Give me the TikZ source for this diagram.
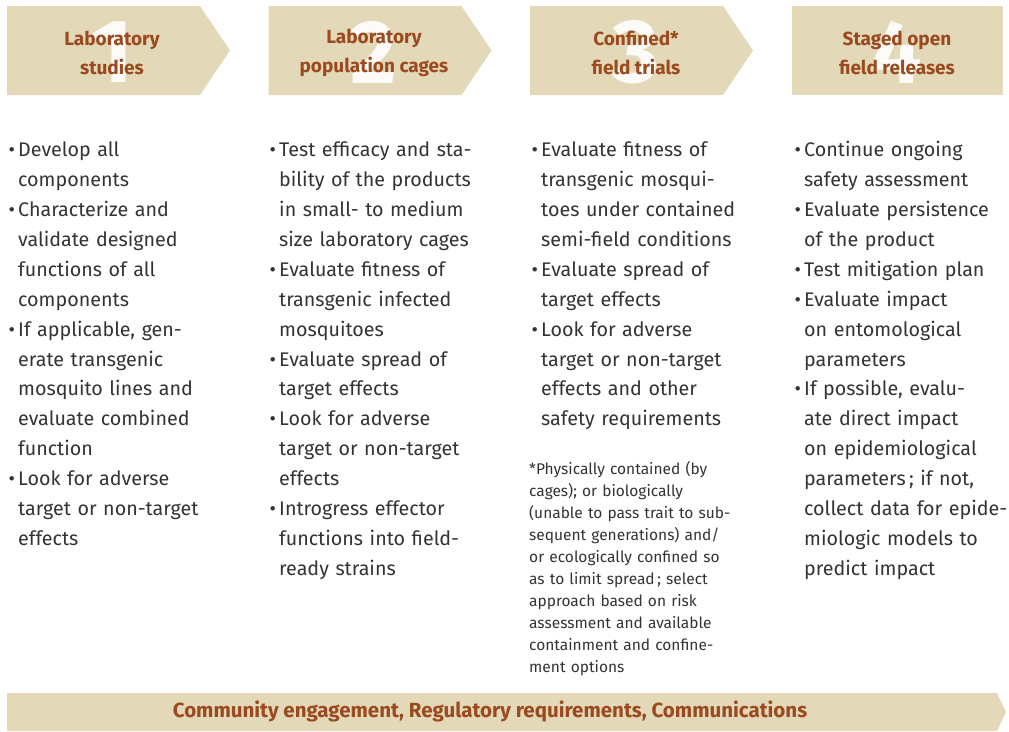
\documentclass[tikz,border=0pt]{standalone}
\usepackage{fontspec}
\setmainfont{Fira Sans}
\definecolor{beige}{HTML}{E3D8B8}
\definecolor{rust}{HTML}{9A4A1E}
\definecolor{ink}{HTML}{333333}
\newcommand{\itm}[1]{\noindent\hangindent=9.5pt\hangafter=1\hbox to 9.5pt{\textbullet\hfil}#1\par}

\begin{document}
\begin{tikzpicture}[x=1pt,y=-1pt,
  hdr/.style={fill=beige},
  num/.style={text=white,opacity=.9,font=\fontsize{90}{90}\selectfont\bfseries},
  ttl/.style={text=rust,align=center,font=\fontsize{19}{29}\selectfont\bfseries},
  body/.style={anchor=base west,inner sep=0pt,text width=240pt,text=ink,font=\fontsize{19.7}{29.93}\selectfont},
  note/.style={anchor=base west,inner sep=0pt,text width=240pt,text=ink,font=\fontsize{15.5}{22.1}\selectfont}]
\useasboundingbox (0,0) rectangle (1009,731);
\foreach \x in {7,268.5,530}
  \fill[hdr] (\x,6) -- ++(193,0) -- ++(30,44.5) -- ++(-30,44.5) -- ++(-193,0) -- cycle;
\fill[hdr] (792,6) rectangle (1003,95);
\fill[hdr] (7,693) -- (997,693) -- (1006,712) -- (997,731) -- (7,731) -- cycle;
\foreach \n/\x in {1/112,2/374,3/636,4/897}
  \node[num] (n\n) at (\x,52) {\n};
\node[ttl] (t1) at (112,52.5) {Laboratory\\studies};
\node[ttl] (t2) at (374,52.5) {Laboratory\\population cages};
\node[ttl] (t3) at (636,52.5) {Confined*\\field trials};
\node[ttl] (t4) at (897,52.5) {Staged open\\field releases};
\node[body] (c1) at (8.5,156.5) {\itm{Develop all\newline components}
\itm{Characterize and\newline validate designed\newline functions of all\newline components}
\itm{If applicable, gen-\newline erate transgenic\newline mosquito lines and\newline evaluate combined\newline function}
\itm{Look for adverse\newline target or non-target\newline effects}};
\node[body] (c2) at (269.5,156.5) {\itm{Test efficacy and sta-\newline bility of the products\newline in small- to medium\newline size laboratory cages}
\itm{Evaluate fitness of\newline transgenic infected\newline mosquitoes}
\itm{Evaluate spread of\newline target effects}
\itm{Look for adverse\newline target or non-target\newline effects}
\itm{Introgress effector\newline functions into field-\newline ready strains}};
\node[body] (c3) at (531.5,156.5) {\itm{Evaluate fitness of\newline transgenic mosqui-\newline toes under contained\newline semi-field conditions}
\itm{Evaluate spread of\newline target effects}
\itm{Look for adverse\newline target or non-target\newline effects and other\newline safety requirements}};
\node[note] (fn) at (529,474) {*Physically contained (by\newline cages); or biologically\newline (unable to pass trait to sub-\newline sequent generations) and/\newline or ecologically confined so\newline as to limit spread\,; select\newline approach based on risk\newline assessment and available\newline containment and confine-\newline ment options};
\node[body] (c4) at (794.5,156.5) {\itm{Continue ongoing\newline safety assessment}
\itm{Evaluate persistence\newline of the product}
\itm{Test mitigation plan}
\itm{Evaluate impact\newline on entomological\newline parameters}
\itm{If possible, evalu-\newline ate direct impact\newline on epidemiological\newline parameters\,; if not,\newline collect data for epide-\newline miologic models to\newline predict impact}};
\node[ttl,font=\fontsize{20.5}{29}\selectfont\bfseries] (bar) at (490,711.5) {Community engagement, Regulatory requirements, Communications};
\end{tikzpicture}
\end{document}
